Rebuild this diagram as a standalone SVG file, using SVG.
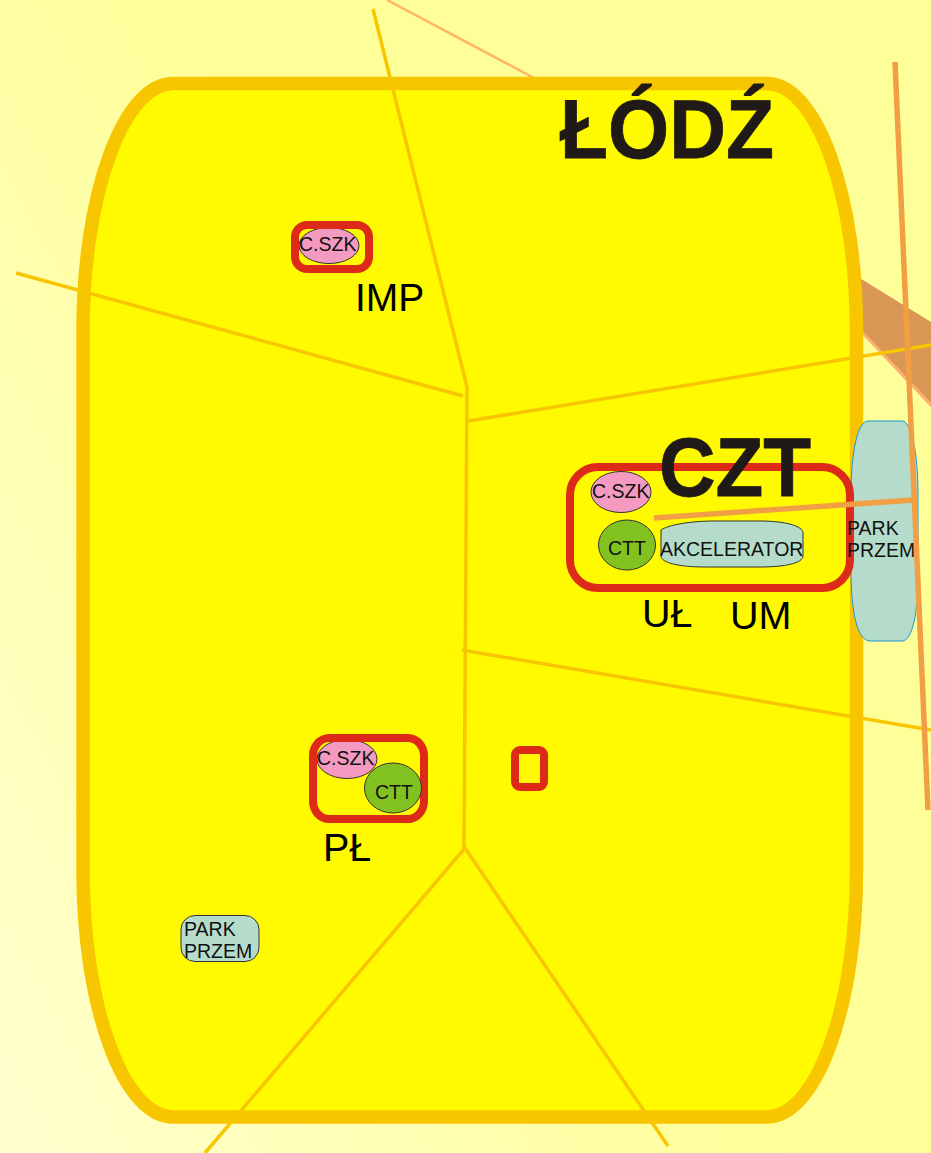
<svg xmlns="http://www.w3.org/2000/svg" width="931" height="1153" viewBox="0 0 931 1153">
<style>
text{font-family:"Liberation Sans",Arial,sans-serif;fill:#000}
.big{font-weight:bold;fill:#1f1a17;stroke:#1f1a17;stroke-width:0.8}
.lbl{font-size:39.500px}
.sm{font-size:19.500px;fill:#111}
.red{fill:none;stroke:#de2a18;stroke-width:8}
.pink{fill:#f49ac1;stroke:#333;stroke-width:1}
.green{fill:#82c220;stroke:#333;stroke-width:1}
.mint{fill:#b5dccb;stroke:#333;stroke-width:1}
.road{fill:none;stroke:#f7c600;stroke-width:3.500}
.or{fill:none;stroke:#f29e45;stroke-width:5.500}
</style>
<defs>
<linearGradient id="bg" x1="0.6" y1="0.6" x2="0" y2="1">
<stop offset="0" stop-color="#ffff99"/>
<stop offset="1" stop-color="#ffffcf"/>
</linearGradient>
</defs>
<rect id="background" width="931" height="1153" fill="url(#bg)"/>
<g id="band">
<path d="M387 0L534 78" fill="none" stroke="#ffb566" stroke-width="2.500"/>
<path d="M858 277L931 322V407L858 329Z" fill="#d99756"/>
<path d="M860 330L931 405" fill="none" stroke="#ffb070" stroke-width="3"/>
</g>
<g id="lodz-fill"><path d="M173 83.500H767A89.500 247 0 0 1 856.500 330.500V870A89.500 247 0 0 1 767 1117H173A90 247 0 0 1 83 870V330.500A90 247 0 0 1 173 83.500Z" fill="#fffa00"/></g>
<g id="connectors">
<path class="road" d="M373 9L467 387L464 848"/>
<path class="road" d="M16 273L463 396"/>
<path class="road" d="M468 421L931 345"/>
<path class="road" d="M462 650L931 730"/>
<path class="road" d="M205 1153L465 848L668 1146"/>
</g>
<g id="lodz">
<path d="M173 83.500H767A89.500 247 0 0 1 856.500 330.500V870A89.500 247 0 0 1 767 1117H173A90 247 0 0 1 83 870V330.500A90 247 0 0 1 173 83.500Z" fill="none" stroke="#f7c600" stroke-width="13.500"/>
<text class="big" x="560" y="158" font-size="84" textLength="214" lengthAdjust="spacingAndGlyphs">ŁÓDŹ</text>
</g>
<g id="park-right"><path d="M868 421H902C911 421 918 450 918 495V575C918 615 912 641 902 641H870C858 641 851 615 851 570V495C851 450 858 421 868 421Z" fill="#b5dccb" stroke="#1a9ad0" stroke-width="1"/></g>
<g id="czt">
<rect class="red" x="570" y="467" width="280" height="121" rx="28" ry="28"/>
<ellipse class="pink" cx="621" cy="492" rx="30" ry="20.500"/>
<text class="sm" x="592" y="498">C.SZK</text>
<ellipse class="green" cx="627" cy="545" rx="28.500" ry="25"/>
<text class="sm" x="608" y="555">CTT</text>
<path class="mint" d="M661 530C668 525 690 521 715 521H760C785 521 803 526 803 533V556C803 563 785 567 760 567H705C680 567 661 563 661 556Z"/>
<text class="sm" x="660" y="556">AKCELERATOR</text>
<text class="big" x="659" y="496" font-size="83" textLength="152" lengthAdjust="spacingAndGlyphs">CZT</text>
<text class="lbl" x="642" y="627">UŁ</text>
<text class="lbl" x="730" y="629">UM</text>
<text class="sm" x="847" y="535">PARK</text>
<text class="sm" x="847" y="557">PRZEM</text>
</g>
<g id="imp">
<ellipse class="pink" cx="329" cy="245.500" rx="30" ry="18"/>
<rect class="red" x="295" y="225" width="74" height="44" rx="12" ry="12"/>
<text class="sm" x="299" y="251">C.SZK</text>
<text class="lbl" x="355" y="311" style="font-size:39px">IMP</text>
</g>
<g id="pl">
<ellipse class="pink" cx="347" cy="759" rx="30" ry="19.500"/>
<rect class="red" x="313" y="738" width="111" height="81" rx="16" ry="18"/>
<ellipse class="green" cx="393" cy="788" rx="28.500" ry="25"/>
<text class="sm" x="317" y="765">C.SZK</text>
<text class="sm" x="375" y="799">CTT</text>
<text class="lbl" x="323" y="861">PŁ</text>
</g>
<g id="small-box"><rect class="red" x="515" y="750" width="29" height="37" rx="5" ry="5"/></g>
<g id="park-left">
<rect class="mint" x="181" y="915.500" width="78" height="46" rx="14" ry="14"/>
<text class="sm" x="184" y="936">PARK</text>
<text class="sm" x="184" y="958">PRZEM</text>
</g>
<g id="orange-lines">
<path class="or" d="M654 518L913 500"/>
<path class="or" d="M895 62L928 810"/>
</g>
</svg>
